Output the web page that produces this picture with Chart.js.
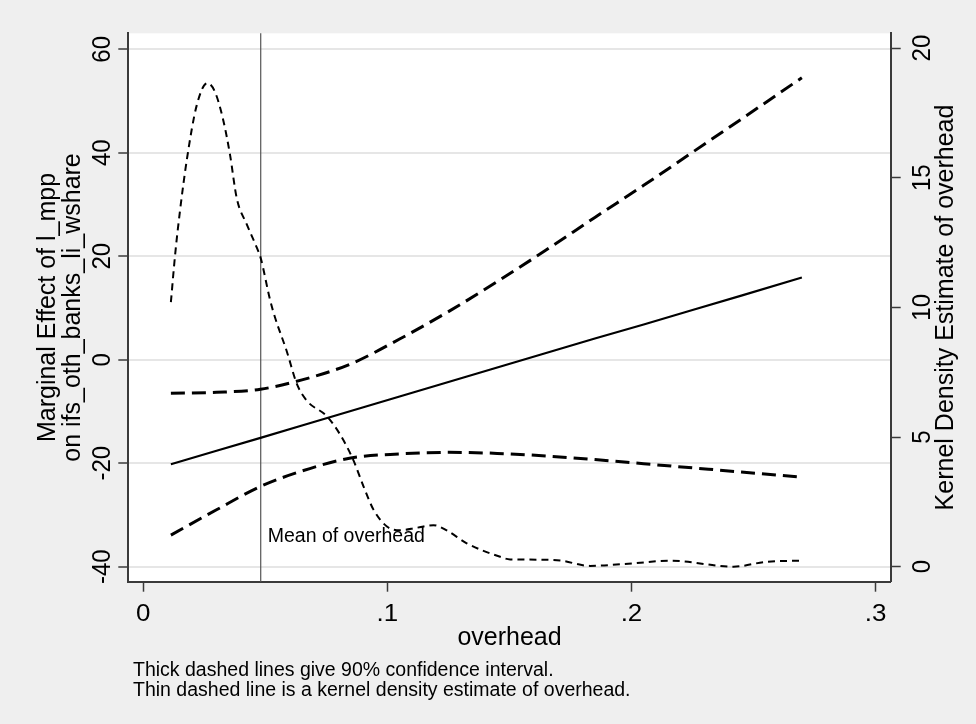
<!DOCTYPE html>
<html>
<head>
<meta charset="utf-8">
<script src="https://cdn.jsdelivr.net/npm/chart.js@4.4.1/dist/chart.umd.min.js"></script>
<style>
  html, body { margin: 0; padding: 0; background: #efefef; }
  canvas { display: block; }
</style>
</head>
<body>
<canvas id="c" width="976" height="724"></canvas>
<script>
// ---------------- data ----------------
const overheadGrid   = [0.0113, 0.03, 0.048, 0.065, 0.085, 0.105, 0.125, 0.145, 0.165, 0.185, 0.205, 0.225, 0.245, 0.2698];
const marginalEffect = [-20.2, -17.6, -15.1, -12.7, -9.9, -7.1, -4.3, -1.5, 1.3, 4.1, 6.8, 9.6, 12.4, 15.9];
const ciUpper        = [-6.5, -6.3, -5.7, -3.9, -0.8, 4.0, 9.3, 15.1, 21.2, 27.5, 33.7, 40.1, 46.5, 54.5];
const ciLower        = [-33.9, -29.0, -24.5, -21.5, -19.0, -18.2, -17.9, -18.1, -18.6, -19.3, -20.1, -20.9, -21.7, -22.7];

const densityX = [0.0113, 0.0130, 0.0150, 0.0180, 0.0219, 0.0262, 0.0294, 0.0328, 0.0355, 0.0383, 0.0424, 0.0465, 0.0481,
                  0.0519, 0.0540, 0.0588, 0.0629, 0.0670, 0.0752, 0.0806, 0.0861, 0.0902, 0.0943, 0.0998, 0.1052, 0.1120,
                  0.1189, 0.1243, 0.1325, 0.1462, 0.1503, 0.1630, 0.1708, 0.1830, 0.2008, 0.2159, 0.2418, 0.2555, 0.2698];
const densityY = [10.2, 12.0, 13.7, 15.8, 17.8, 18.65, 18.3, 17.2, 15.9, 14.2, 13.2, 12.3, 11.9,
                  10.3, 9.6, 8.3, 7.05, 6.4, 5.8, 5.1, 4.1, 3.1, 2.2, 1.55, 1.4, 1.5,
                  1.6, 1.4, 0.9, 0.38, 0.28, 0.27, 0.24, 0.03, 0.13, 0.23, 0.0, 0.19, 0.23];

const meanOverhead = 0.0481;

const xTicks            = [0, 0.1, 0.2, 0.3];
const xTickLabels       = ['0', '.1', '.2', '.3'];
const yLeftTicks        = [-40, -20, 0, 20, 40, 60];
const yLeftTickLabels   = ['-40', '-20', '0', '20', '40', '60'];
const yRightTicks       = [0, 5, 10, 15, 20];
const yRightTickLabels  = ['0', '5', '10', '15', '20'];

const xTitle      = 'overhead';
const yLeftTitle  = ['Marginal Effect of l_mpp', 'on ifs_oth_banks_li_wshare'];
const yRightTitle = 'Kernel Density Estimate of overhead';
const meanLabel   = 'Mean of overhead';
const notes       = ['Thick dashed lines give 90% confidence interval.',
                     'Thin dashed line is a kernel density estimate of overhead.'];

// ---------------- helpers ----------------
const FAMILY = '"Liberation Sans", Arial, Helvetica, sans-serif';
const toPts = (xs, ys) => xs.map((x, i) => ({ x: x, y: ys[i] }));

function drawText(ctx, text, x, y, opt) {
  ctx.save();
  ctx.translate(x, y);
  ctx.scale(opt.sx || 1, 1);
  if (opt.rotate) ctx.rotate(-Math.PI / 2);
  ctx.font = opt.font;
  ctx.textAlign = opt.align || 'left';
  ctx.textBaseline = 'alphabetic';
  ctx.fillStyle = opt.color || '#000';
  ctx.fillText(text, 0, 0);
  ctx.restore();
}

const backgroundPlugin = {
  id: 'stataBackground',
  beforeDraw(chart) {
    const { ctx, chartArea: a } = chart;
    ctx.save();
    ctx.fillStyle = '#efefef';
    ctx.fillRect(0, 0, chart.width, chart.height);
    ctx.fillStyle = '#ffffff';
    ctx.fillRect(a.left, a.top, a.right - a.left, a.bottom - a.top);
    ctx.restore();
  },
  beforeDatasetsDraw(chart) {
    const { ctx, chartArea: a, scales } = chart;
    const px = scales.x.getPixelForValue(meanOverhead);
    ctx.save();
    ctx.strokeStyle = '#555';
    ctx.lineWidth = 1.2;
    ctx.beginPath();
    ctx.moveTo(px, a.top);
    ctx.lineTo(px, a.bottom);
    ctx.stroke();
    ctx.restore();
  }
};

const textPlugin = {
  id: 'stataText',
  afterDraw(chart) {
    const { ctx, chartArea: a, scales } = chart;
    const tickFont = '24px ' + FAMILY;
    const titleFont = '25px ' + FAMILY;
    const smallFont = '19.5px ' + FAMILY;
    const sx = 1.08;

    // x tick labels
    xTicks.forEach((v, i) => {
      drawText(ctx, xTickLabels[i], scales.x.getPixelForValue(v), 621, { font: tickFont, align: 'center', sx: sx });
    });
    // left tick labels (rotated)
    yLeftTicks.forEach((v, i) => {
      drawText(ctx, yLeftTickLabels[i], 110, scales.y.getPixelForValue(v), { font: tickFont, align: 'center', rotate: true, sx: sx });
    });
    // right tick labels (rotated)
    yRightTicks.forEach((v, i) => {
      drawText(ctx, yRightTickLabels[i], 930, scales.y2.getPixelForValue(v), { font: tickFont, align: 'center', rotate: true, sx: sx });
    });

    const cy = (a.top + a.bottom) / 2;
    const cx = (a.left + a.right) / 2;
    // axis titles
    drawText(ctx, xTitle, cx, 645, { font: titleFont, align: 'center' });
    drawText(ctx, yLeftTitle[0], 55, cy, { font: titleFont, align: 'center', rotate: true });
    drawText(ctx, yLeftTitle[1], 79.5, cy, { font: titleFont, align: 'center', rotate: true });
    drawText(ctx, yRightTitle, 953, cy, { font: titleFont, align: 'center', rotate: true });

    // mean label
    drawText(ctx, meanLabel, scales.x.getPixelForValue(meanOverhead) + 7, scales.y.getPixelForValue(-35.2), { font: smallFont, align: 'left' });

    // notes
    drawText(ctx, notes[0], 133, 676, { font: smallFont, align: 'left' });
    drawText(ctx, notes[1], 133, 696, { font: smallFont, align: 'left' });
  }
};

const axisInk = '#3a3a3a';

new Chart(document.getElementById('c').getContext('2d'), {
  type: 'scatter',
  data: {
    datasets: [
      { label: 'Lower 90% CI', data: toPts(overheadGrid, ciLower), yAxisID: 'y', showLine: true,
        borderColor: '#000', borderWidth: 3, borderDash: [14, 7], pointRadius: 0, cubicInterpolationMode: 'monotone' },
      { label: 'Upper 90% CI', data: toPts(overheadGrid, ciUpper), yAxisID: 'y', showLine: true,
        borderColor: '#000', borderWidth: 3, borderDash: [14, 7], pointRadius: 0, cubicInterpolationMode: 'monotone' },
      { label: 'Marginal effect', data: toPts(overheadGrid, marginalEffect), yAxisID: 'y', showLine: true,
        borderColor: '#000', borderWidth: 2.2, pointRadius: 0 },
      { label: 'Kernel density of overhead', data: toPts(densityX, densityY), yAxisID: 'y2', showLine: true,
        borderColor: '#000', borderWidth: 2, borderDash: [7, 5], pointRadius: 0, cubicInterpolationMode: 'monotone' }
    ]
  },
  options: {
    responsive: false,
    animation: false,
    devicePixelRatio: 1,
    layout: { padding: { left: 118.3, right: 75.3, top: 33.3, bottom: 132.3 } },
    plugins: { legend: { display: false }, tooltip: { enabled: false } },
    scales: {
      x: {
        type: 'linear', position: 'bottom', min: -0.00615, max: 0.3062,
        afterBuildTicks: ax => { ax.ticks = xTicks.map(v => ({ value: v })); },
        ticks: { display: false },
        grid: { drawOnChartArea: false, drawTicks: true, tickLength: 10, tickColor: axisInk, tickWidth: 1.5 },
        border: { display: true, color: axisInk, width: 2 }
      },
      y: {
        type: 'linear', position: 'left', min: -42.9, max: 63.09,
        afterBuildTicks: ax => { ax.ticks = yLeftTicks.map(v => ({ value: v })); },
        ticks: { display: false },
        grid: { drawOnChartArea: true, color: '#e6e6e6', lineWidth: 2, drawTicks: true, tickLength: 10, tickColor: axisInk, tickWidth: 1.5 },
        border: { display: true, color: axisInk, width: 2 }
      },
      y2: {
        type: 'linear', position: 'right', min: -0.58, max: 20.57,
        afterBuildTicks: ax => { ax.ticks = yRightTicks.map(v => ({ value: v })); },
        ticks: { display: false },
        grid: { drawOnChartArea: false, drawTicks: true, tickLength: 10, tickColor: axisInk, tickWidth: 1.5 },
        border: { display: true, color: axisInk, width: 2 }
      }
    }
  },
  plugins: [backgroundPlugin, textPlugin]
});
</script>
</body>
</html>
